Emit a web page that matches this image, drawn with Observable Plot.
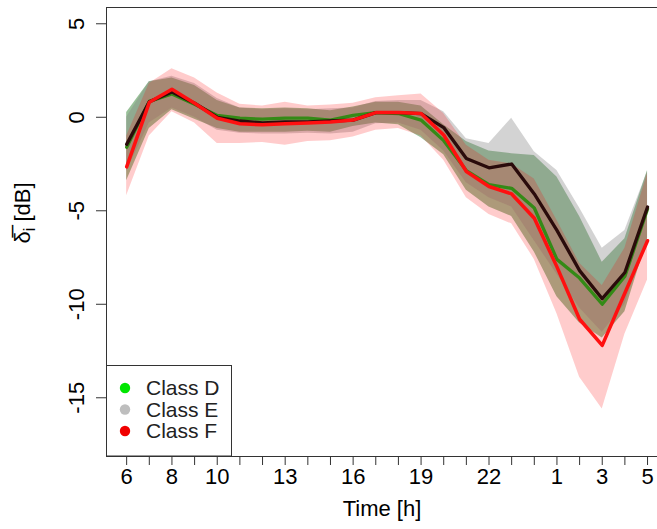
<!DOCTYPE html>
<html>
<head>
<meta charset="utf-8">
<script src="https://cdn.jsdelivr.net/npm/d3@7"></script>
<script src="https://cdn.jsdelivr.net/npm/@observablehq/plot@0.6"></script>
<style>
  html, body { margin: 0; padding: 0; background: #fff; }
  #chart svg { display: block; }
</style>
</head>
<body>
<div id="chart"></div>
<script>
// Hours of the day, starting at 06:00 and running to 05:00 next day
const hours = [6,7,8,9,10,11,12,13,14,15,16,17,18,19,20,21,22,23,0,1,2,3,4,5];
const hourLabels = ["6","","8","","10","","","13","","","16","","","19","","","22","","","1","","3","","5"];
const yTicks = [-15, -10, -5, 0, 5];

// Class D (green)
const dMean = [-1.6, 0.85, 1.25, 0.7, 0.1, -0.05, -0.1, -0.05, -0.05, -0.15, 0.1, 0.25, 0.2, -0.15, -1.25, -2.85, -3.6, -3.8, -4.85, -7.6, -8.6, -10.0, -8.5, -4.9];
const dLow  = [-3.4, -0.6, 0.4, -0.1, -0.6, -0.8, -0.8, -0.8, -0.75, -0.8, -0.5, -0.3, -0.4, -1.1, -2.0, -3.9, -4.8, -5.3, -7.2, -9.6, -11.0, -11.8, -10.4, -6.5];
const dHigh = [0.25, 1.9, 2.1, 1.7, 0.9, 0.5, 0.45, 0.5, 0.45, 0.35, 0.55, 0.8, 0.8, 0.6, -0.4, -1.3, -1.8, -1.95, -2.05, -3.2, -5.3, -7.75, -6.5, -2.85];

// Class E (grey band, dark line)
const eMean = [-1.45, 0.83, 1.35, 0.75, 0.0, -0.2, -0.3, -0.25, -0.25, -0.2, -0.15, 0.25, 0.25, 0.2, -0.55, -2.2, -2.7, -2.5, -4.1, -6.05, -8.2, -9.7, -8.3, -4.8];
const eLow  = [-2.9, -0.3, 0.5, 0.0, -0.7, -0.85, -0.9, -0.9, -0.85, -0.9, -0.8, -0.35, -0.3, -0.7, -1.8, -3.5, -4.3, -4.8, -6.6, -8.4, -10.2, -11.5, -10.0, -6.5];
const eHigh = [0.0, 1.9, 2.2, 1.8, 1.0, 0.5, 0.4, 0.45, 0.4, 0.45, 0.5, 0.85, 0.9, 0.9, 0.3, -1.15, -1.4, -0.05, -1.85, -2.85, -4.85, -7.0, -6.05, -2.9];

// Class F (red)
const fMean = [-2.65, 0.8, 1.5, 0.75, -0.05, -0.35, -0.4, -0.35, -0.3, -0.25, -0.15, 0.25, 0.25, 0.2, -0.95, -2.9, -3.7, -4.1, -5.4, -8.0, -10.8, -12.2, -9.4, -6.6];
const fLow  = [-4.2, -1.0, 0.3, -0.3, -1.4, -1.4, -1.35, -1.5, -1.3, -1.25, -1.05, -0.7, -0.6, -1.0, -2.3, -4.3, -5.2, -5.7, -7.6, -10.5, -13.9, -15.6, -11.6, -8.7];
const fHigh = [-1.0, 1.8, 2.6, 2.1, 1.3, 0.7, 0.6, 0.8, 0.6, 0.65, 0.75, 1.05, 1.15, 1.25, 0.2, -1.5, -2.3, -2.5, -3.3, -5.5, -7.8, -9.0, -7.0, -3.0];

const classNames = ["Class D", "Class E", "Class F"];
const legendColors = ["#00e600", "#bebebe", "#f00000"];

function rows(mean, lo, hi) {
  return hours.map((h, i) => ({i, hour: h, mean: mean[i], lo: lo[i], hi: hi[i]}));
}
const D = rows(dMean, dLow, dHigh);
const E = rows(eMean, eLow, eHigh);
const F = rows(fMean, fLow, fHigh);

const W = 657, H = 529;
const mL = 106, mT = 7, mB = 73, mR = 0;
const xDomain = [-0.89, 23.44];
const yDomain = [-18.14, 5.87];
const font = "'Liberation Sans', Arial, Helvetica, sans-serif";
const FS = 22;

const chart = Plot.plot({
  width: W,
  height: H,
  marginLeft: mL,
  marginTop: mT,
  marginBottom: mB,
  marginRight: mR,
  style: {fontFamily: font, fontSize: FS + "px", color: "#000", background: "#fff", overflow: "visible"},
  x: {domain: xDomain, axis: null},
  y: {domain: yDomain, axis: null},
  marks: [
    // bands
    Plot.areaY(D, {x: "i", y1: "lo", y2: "hi", fill: "#006400", fillOpacity: 0.4}),
    Plot.areaY(E, {x: "i", y1: "lo", y2: "hi", fill: "#808080", fillOpacity: 0.35}),
    Plot.areaY(F, {x: "i", y1: "lo", y2: "hi", fill: "#ff0000", fillOpacity: 0.2}),
    // mean lines
    Plot.line(D, {x: "i", y: "mean", stroke: "#348a16", strokeWidth: 3.3}),
    Plot.line(E, {x: "i", y: "mean", stroke: "#2a0b0b", strokeWidth: 3.3}),
    Plot.line(F, {x: "i", y: "mean", stroke: "#ff1010", strokeWidth: 3.5}),
    // box (top, bottom, left)
    Plot.ruleY([yDomain[1], yDomain[0]], {stroke: "#333", strokeWidth: 1}),
    Plot.ruleX([xDomain[0]], {stroke: "#333", strokeWidth: 1}),
    // x axis
    Plot.axisX({
      ticks: hours.map((h, i) => i),
      tickFormat: i => hourLabels[i],
      tickSize: 9,
      tickPadding: 3,
      fontSize: FS,
      label: null,
      stroke: "#333"
    }),
    Plot.ruleY([yDomain[0]], {x1: 0, x2: hours.length - 1, stroke: "#333"}),
    Plot.text(["Time [h]"], {frameAnchor: "bottom", dy: 59, fontSize: FS, fill: "#000"}),
    // y axis
    Plot.axisY({ticks: yTicks, tickSize: 10, tickFormat: () => "", label: null, stroke: "#333"}),
    Plot.text(yTicks, {y: d => d, text: d => String(d), frameAnchor: "left", dx: -30, rotate: -90, fontSize: FS, fill: "#000", textAnchor: "middle", lineAnchor: "middle"})
  ]
});

document.getElementById("chart").appendChild(chart);

// y-axis title and legend
const svg = d3.select(chart);
const yTitle = svg.append("text")
  .attr("transform", "translate(30,213) rotate(-90)")
  .attr("text-anchor", "middle")
  .attr("font-family", font)
  .attr("font-size", FS)
  .attr("fill", "#000");
yTitle.append("tspan").text("\u03B4\u0305");
yTitle.append("tspan").attr("font-size", 16).attr("dy", 5).text("i");
yTitle.append("tspan").attr("dy", -5).text(" [dB]");

const lg = svg.append("g");
lg.append("rect")
  .attr("x", mL + 0.5).attr("y", 365.5)
  .attr("width", 125).attr("height", H - mB - 365.5)
  .attr("fill", "#fff").attr("stroke", "#333");
classNames.forEach((name, k) => {
  const cy = 388 + k * 21.5;
  lg.append("circle").attr("cx", 125).attr("cy", cy).attr("r", 5.2).attr("fill", legendColors[k]);
  lg.append("text").attr("x", 146).attr("y", cy).attr("dy", "0.35em")
    .attr("text-anchor", "start")
    .attr("font-family", font).attr("font-size", 21).attr("fill", "#222").text(name);
});
</script>
</body>
</html>
